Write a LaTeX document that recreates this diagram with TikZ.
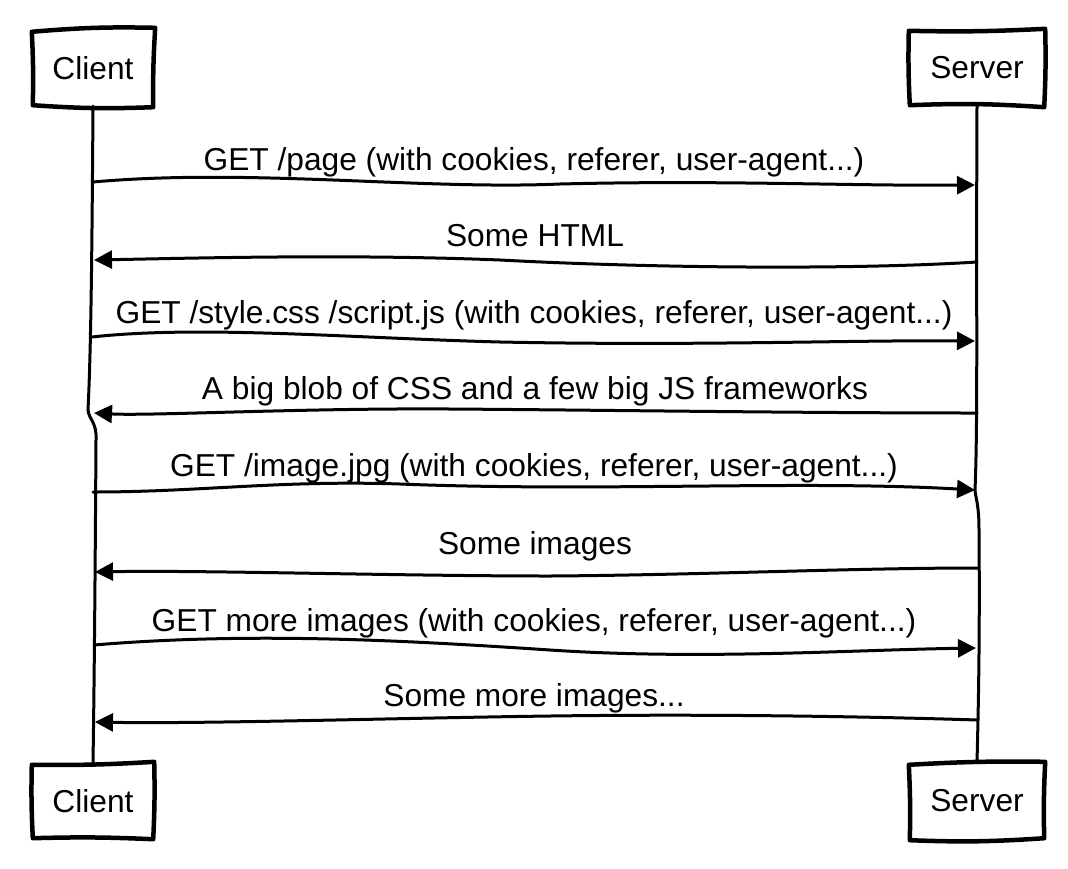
\documentclass[tikz,border=0pt]{standalone}
\usepackage{fontspec}
\setmainfont{Liberation Sans}
\usetikzlibrary{arrows.meta,calc}
\begin{document}
\begin{tikzpicture}[x=1pt,y=-1pt,
  lbl/.style={font=\fontsize{31.7}{38}\selectfont, anchor=base, inner sep=0pt},
  actor/.style={font=\fontsize{31.7}{38}\selectfont, inner sep=0pt, minimum width=122pt, minimum height=76pt},
  sketch/.style={line width=4.5pt, line join=round, line cap=round},
  life/.style={line width=3pt, line cap=round},
  msg/.style={line width=3pt, line cap=round, -{Triangle[length=18pt,width=18pt]}}]
\fill[white] (0,0) rectangle (1068,868);
\useasboundingbox (0,0) rectangle (1068,868);

% actors
\node[actor] (ct) at (93,68) {Client};
\node[actor, minimum width=136pt] (st) at (977,68) {Server};
\node[actor] (cb) at (93,801) {Client};
\node[actor, minimum width=136pt] (sb) at (977,801) {Server};

% sketchy boxes
\draw[sketch] ($(ct.north west)+(0,2)$) to[bend left=3] ($(ct.north east)+(1,-2)$)
  to[bend right=2] ($(ct.south east)+(-1,1)$) to[bend left=3] ($(ct.south west)+(1,-1)$)
  to[bend right=2] cycle;
\draw[sketch] ($(st.north west)+(0,1)$) to[bend right=2] ($(st.north east)+(0,-1)$)
  to[bend left=2] ($(st.south east)+(-1,1)$) to[bend right=3] ($(st.south west)+(1,-1)$)
  to[bend left=2] cycle;
\draw[sketch] ($(cb.north west)+(0,2)$) to[bend right=2] ($(cb.north east)+(0,-1)$)
  to[bend left=2] ($(cb.south east)+(-1,0)$) to[bend right=2] ($(cb.south west)+(1,-1)$)
  to[bend left=2] cycle;
\draw[sketch] ($(sb.north west)+(0,2)$) to[bend left=2] ($(sb.north east)+(0,-1)$)
  to[bend right=2] ($(sb.south east)+(-1,-1)$) to[bend left=3] ($(sb.south west)+(1,1)$)
  to[bend right=2] cycle;

% lifelines
\draw[life] (ct.south) .. controls (92,250) and (91,350) .. (88,410)
  .. controls (89,420) and (97,422) .. (96,440)
  .. controls (95,600) and (94,700) .. (cb.north);
\draw[life] (st.south) .. controls (976,300) and (978,420) .. (975,490)
  .. controls (976,500) and (979,505) .. (979,530)
  .. controls (980,650) and (978,720) .. (sb.north);

% message end points
\coordinate (a1) at (93,182);  \coordinate (b1) at (975,185);
\coordinate (b2) at (977,262); \coordinate (a2) at (94,260);
\coordinate (a3) at (92,337);  \coordinate (b3) at (975,341);
\coordinate (b4) at (977,413); \coordinate (a4) at (94,413);
\coordinate (a5) at (93,492);  \coordinate (b5) at (975,490);
\coordinate (b6) at (978,568); \coordinate (a6) at (95,572);
\coordinate (a7) at (94,645);  \coordinate (b7) at (976,648);
\coordinate (b8) at (978,720); \coordinate (a8) at (95,722);

% messages
\draw[msg] (a1) .. controls (250,168) and (420,190) .. (560,184) .. controls (720,180) and (850,186) .. (b1);
\draw[msg] (b2) .. controls (850,270) and (650,268) .. (500,260) .. controls (350,254) and (200,258) .. (a2);
\draw[msg] (a3) .. controls (200,325) and (350,338) .. (500,342) .. controls (700,346) and (850,340) .. (b3);
\draw[msg] (b4) .. controls (800,413) and (600,410) .. (450,409) .. controls (300,408) and (150,416) .. (a4);
\draw[msg] (a5) .. controls (200,492) and (280,480) .. (400,484) .. controls (600,492) and (800,480) .. (b5);
\draw[msg] (b6) .. controls (850,568) and (700,575) .. (550,576) .. controls (400,576) and (200,570) .. (a6);
\draw[msg] (a7) .. controls (250,632) and (400,640) .. (550,650) .. controls (700,660) and (850,650) .. (b7);
\draw[msg] (b8) .. controls (850,716) and (700,714) .. (550,716) .. controls (400,718) and (200,724) .. (a8);

% labels
\node[lbl] (l1) at (534,170) {GET /page (with cookies, referer, user-agent...)};
\node[lbl] (l2) at (535,246) {Some HTML};
\node[lbl] (l3) at (534,323) {GET /style.css /script.js (with cookies, referer, user-agent...)};
\node[lbl] (l4) at (535,399) {A big blob of CSS and a few big JS frameworks};
\node[lbl] (l5) at (534,476) {GET /image.jpg (with cookies, referer, user-agent...)};
\node[lbl] (l6) at (535,554) {Some images};
\node[lbl] (l7) at (534,631) {GET more images (with cookies, referer, user-agent...)};
\node[lbl] (l8) at (534,706) {Some more images...};
\end{tikzpicture}
\end{document}
